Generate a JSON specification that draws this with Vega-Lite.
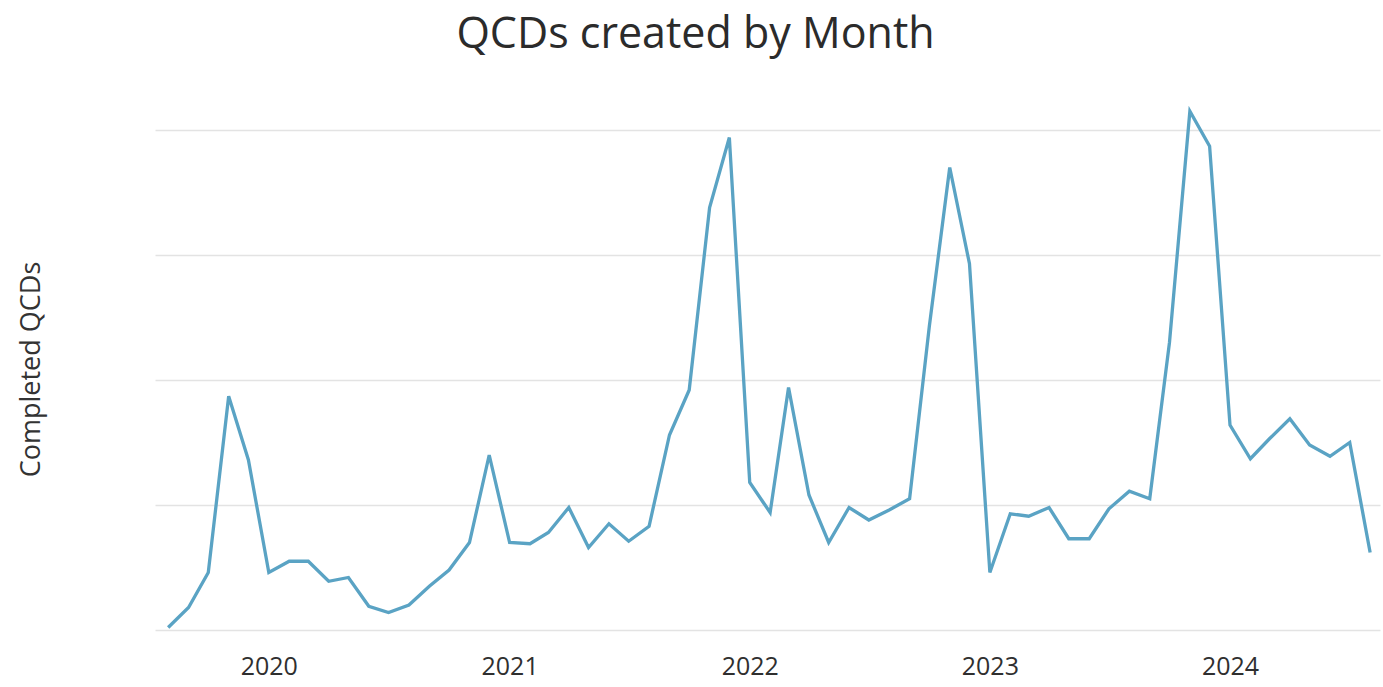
{
  "$schema": "https://vega.github.io/schema/vega-lite/v6.json",
  "autosize": {"type": "none"},
  "padding": {"left": 155, "top": 105, "right": 3, "bottom": 57},
  "width": 1225,
  "height": 525,
  "background": "white",
  "title": {
    "text": "QCDs created by Month",
    "font": "Open Sans",
    "fontSize": 43,
    "fontWeight": "normal",
    "color": "#2b2b2b",
    "anchor": "middle",
    "baseline": "alphabetic",
    "offset": 14,
    "dx": -72
  },
  "data": {
    "values": [
      {"month": "2019-08-01", "qcds": 2},
      {"month": "2019-09-01", "qcds": 18},
      {"month": "2019-10-01", "qcds": 46},
      {"month": "2019-11-01", "qcds": 187},
      {"month": "2019-12-01", "qcds": 136},
      {"month": "2020-01-01", "qcds": 46},
      {"month": "2020-02-01", "qcds": 55},
      {"month": "2020-03-01", "qcds": 55},
      {"month": "2020-04-01", "qcds": 39},
      {"month": "2020-05-01", "qcds": 42},
      {"month": "2020-06-01", "qcds": 19},
      {"month": "2020-07-01", "qcds": 14},
      {"month": "2020-08-01", "qcds": 20},
      {"month": "2020-09-01", "qcds": 35},
      {"month": "2020-10-01", "qcds": 48},
      {"month": "2020-11-01", "qcds": 70},
      {"month": "2020-12-01", "qcds": 140},
      {"month": "2021-01-01", "qcds": 70},
      {"month": "2021-02-01", "qcds": 69},
      {"month": "2021-03-01", "qcds": 78},
      {"month": "2021-04-01", "qcds": 98},
      {"month": "2021-05-01", "qcds": 66},
      {"month": "2021-06-01", "qcds": 85},
      {"month": "2021-07-01", "qcds": 71},
      {"month": "2021-08-01", "qcds": 83},
      {"month": "2021-09-01", "qcds": 156},
      {"month": "2021-10-01", "qcds": 192},
      {"month": "2021-11-01", "qcds": 338},
      {"month": "2021-12-01", "qcds": 394},
      {"month": "2022-01-01", "qcds": 118},
      {"month": "2022-02-01", "qcds": 94},
      {"month": "2022-03-01", "qcds": 194},
      {"month": "2022-04-01", "qcds": 108},
      {"month": "2022-05-01", "qcds": 70},
      {"month": "2022-06-01", "qcds": 98},
      {"month": "2022-07-01", "qcds": 88},
      {"month": "2022-08-01", "qcds": 96},
      {"month": "2022-09-01", "qcds": 105},
      {"month": "2022-10-01", "qcds": 243},
      {"month": "2022-11-01", "qcds": 370},
      {"month": "2022-12-01", "qcds": 293},
      {"month": "2023-01-01", "qcds": 46},
      {"month": "2023-02-01", "qcds": 93},
      {"month": "2023-03-01", "qcds": 91},
      {"month": "2023-04-01", "qcds": 98},
      {"month": "2023-05-01", "qcds": 73},
      {"month": "2023-06-01", "qcds": 73},
      {"month": "2023-07-01", "qcds": 97},
      {"month": "2023-08-01", "qcds": 111},
      {"month": "2023-09-01", "qcds": 105},
      {"month": "2023-10-01", "qcds": 230},
      {"month": "2023-11-01", "qcds": 415},
      {"month": "2023-12-01", "qcds": 387},
      {"month": "2024-01-01", "qcds": 164},
      {"month": "2024-02-01", "qcds": 137},
      {"month": "2024-03-01", "qcds": 153},
      {"month": "2024-04-01", "qcds": 169},
      {"month": "2024-05-01", "qcds": 148},
      {"month": "2024-06-01", "qcds": 139},
      {"month": "2024-07-01", "qcds": 150},
      {"month": "2024-08-01", "qcds": 62}
    ]
  },
  "mark": {"type": "line", "color": "#5aa3c4", "strokeWidth": 3.3, "strokeJoin": "miter"},
  "encoding": {
    "x": {
      "field": "month",
      "type": "temporal",
      "scale": {"domain": ["2019-07-12", "2024-08-16"]},
      "axis": {
        "title": null,
        "format": "%Y",
        "tickCount": "year",
        "grid": false,
        "domain": false,
        "ticks": false,
        "labelFont": "Open Sans",
        "labelFontSize": 25,
        "labelColor": "#2f2f2f",
        "labelPadding": 24,
        "labelBaseline": "top"
      }
    },
    "y": {
      "field": "qcds",
      "type": "quantitative",
      "scale": {"domain": [0, 420], "nice": false},
      "axis": {
        "title": "Completed QCDs",
        "values": [0, 100, 200, 300, 400],
        "labels": false,
        "ticks": false,
        "domain": false,
        "grid": true,
        "gridColor": "#e3e3e3",
        "gridWidth": 1.5,
        "titleFont": "Open Sans",
        "titleFontSize": 27,
        "titleFontWeight": "normal",
        "titleColor": "#333333",
        "titleAngle": -90,
        "titleAlign": "center",
        "titleBaseline": "middle",
        "titleX": -124,
        "titleY": 264
      }
    }
  },
  "config": {"view": {"stroke": null}}
}
